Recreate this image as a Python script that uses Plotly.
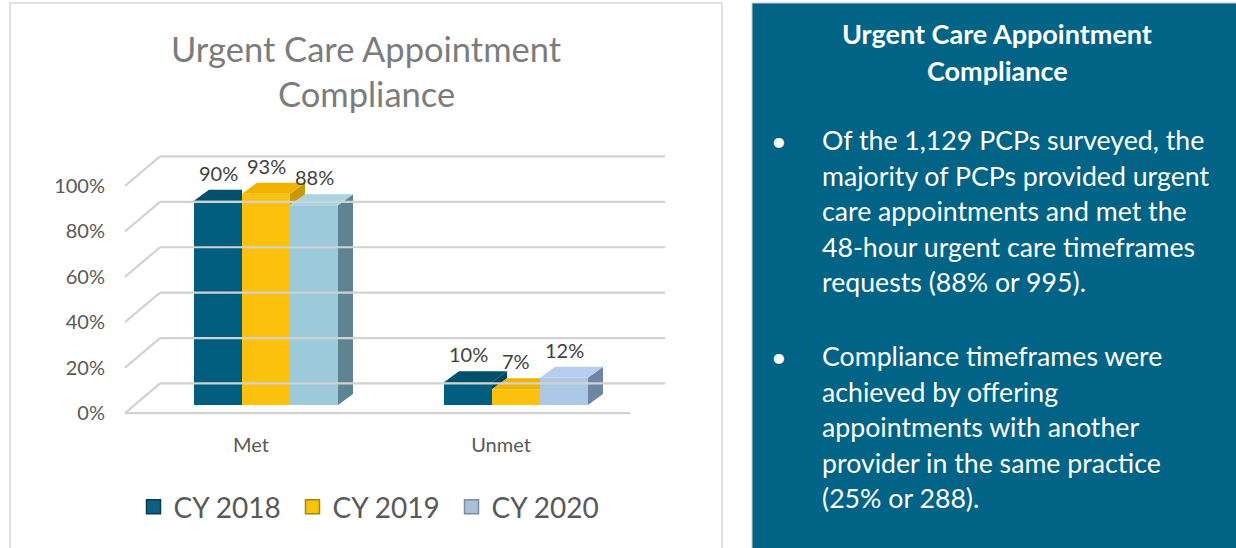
import plotly.graph_objects as go

# ---------------- data ----------------
categories = ["Met", "Unmet"]
series_names = ["CY 2018", "CY 2019", "CY 2020"]
cy2018 = [90, 10]
cy2019 = [93, 7]
cy2020 = [88, 12]
y_ticks = [0, 20, 40, 60, 80, 100]

chart_title = ["Urgent Care Appointment", "Compliance"]
panel_title = ["Urgent Care Appointment", "Compliance"]
bullet1 = ["Of the 1,129 PCPs surveyed, the",
           "majority of PCPs provided urgent",
           "care appointments and met the",
           "48-hour urgent care timeframes",
           "requests (88% or 995)."]
bullet2 = ["Compliance timeframes were",
           "achieved by offering",
           "appointments with another",
           "provider in the same practice",
           "(25% or 288)."]

# ---------------- style ----------------
W, H = 1236, 548
FONT = "Lato"
front_cols = [["#015d7e", "#015d7e"], ["#fcc10c", "#fcc10c"], ["#9ccadb", "#adc7e7"]]
top_cols = [["#004f6b", "#004f6b"], ["#f0b400", "#f0b400"], ["#a9d4e3", "#b7cfec"]]
side_cols = [["#00435b", "#00435b"], ["#c99a00", "#c99a00"], ["#5f8491", "#6e86a3"]]
legend_cols = ["#0f5f7d", "#f5c40c", "#acbfd9"]
legend_edges = ["#073d52", "#a88600", "#7b8da6"]

PX_X = 250.0   # px per x unit
PX_Y = 2.27    # px per y unit
bar_w = 0.192
dx = 15 / PX_X          # depth offset (x)
dy = 11 / PX_Y          # depth offset (y)
front_off = -8 / PX_Y   # front plane offset
back_off = 9.5          # back wall offset
x_front = (125 - 266) / PX_X
x_back = (160 - 266) / PX_X
x_back_end = (665 - 266) / PX_X
x_floor_end = (630 - 266) / PX_X


def px(p):
    return p / W


def py(p):
    return 1 - p / H


series = [cy2018, cy2019, cy2020]
fig = go.Figure()

# front faces (bars)
for i, (name, vals) in enumerate(zip(series_names, series)):
    fig.add_trace(go.Bar(
        x=list(range(len(categories))), y=vals, name=name,
        width=bar_w, offset=-1.5 * bar_w + i * bar_w,
        marker=dict(color=front_cols[i], line=dict(width=0)),
        hoverinfo="skip", showlegend=False,
    ))

# 3D top / side faces computed from the data
for c in range(len(categories)):
    for i, vals in enumerate(series):
        v = vals[c]
        x0 = c - 1.5 * bar_w + i * bar_w
        x1 = x0 + bar_w
        nxt = series[i + 1][c] if i + 1 < len(series) else None
        if nxt is None or nxt < v:
            lo = 0 if nxt is None else nxt
            sx = [x1, x1, x1 + dx, x1 + dx, x1]
            sy = [lo, v, v + dy, lo + dy, lo]
            fig.add_trace(go.Scatter(x=sx, y=sy, fill="toself", mode="lines",
                                     line=dict(width=0), fillcolor=side_cols[i][c],
                                     showlegend=False, hoverinfo="skip"))
            tx = [x0, x1, x1 + dx, x0 + dx, x0]
            ty = [v, v, v + dy, v + dy, v]
        else:
            tx = [x0, x1, x1, x0 + dx, x0]
            ty = [v, v, v + dy, v + dy, v]
        fig.add_trace(go.Scatter(x=tx, y=ty, fill="toself", mode="lines",
                                 line=dict(width=0), fillcolor=top_cols[i][c],
                                 showlegend=False, hoverinfo="skip"))

# legend entries (square swatches)
for i, name in enumerate(series_names):
    fig.add_trace(go.Scatter(
        x=[None], y=[None], mode="markers", name=name,
        marker=dict(symbol="square", size=14, color=legend_cols[i],
                    line=dict(color=legend_edges[i], width=1.5)),
        hoverinfo="skip",
    ))

annotations = []
# data labels
for c in range(len(categories)):
    for i, vals in enumerate(series):
        v = vals[c]
        xc = c - bar_w + i * bar_w
        annotations.append(dict(x=xc, y=v + dy, xref="x", yref="y", text=f"{v}%",
                                showarrow=False, yanchor="middle", yshift=17,
                                font=dict(family=FONT, size=20, color="#404040")))

# gridlines (3D wall + floor)
shapes = []
gcol = "#d2d2d2"
shapes.append(dict(type="rect", xref="paper", yref="paper", x0=px(10), x1=px(722),
                   y0=py(560), y1=py(3), line=dict(color="#d9d9d9", width=1.5),
                   fillcolor="white", layer="below"))
for g in y_ticks:
    shapes.append(dict(type="line", xref="x", yref="y", x0=x_front, y0=g + front_off,
                       x1=x_back, y1=g + back_off, line=dict(color=gcol, width=2.2)))
    shapes.append(dict(type="line", xref="x", yref="y", x0=x_back, y0=g + back_off,
                       x1=x_back_end, y1=g + back_off, line=dict(color=gcol, width=2.2)))
shapes.append(dict(type="line", xref="x", yref="y", x0=x_front, y0=front_off,
                   x1=x_floor_end, y1=front_off, line=dict(color=gcol, width=2.2)))
shapes.append(dict(type="rect", xref="paper", yref="paper", x0=px(752), x1=px(1240),
                   y0=py(560), y1=py(3), line=dict(color="#c9c9c9", width=1),
                   fillcolor="#016385", layer="below"))

# chart title
for k, t in enumerate(chart_title):
    annotations.append(dict(x=px(366), y=py(48 + 45 * k), xref="paper", yref="paper",
                            text=t, showarrow=False, xanchor="center", yanchor="middle",
                            font=dict(family=FONT, size=34.5, color="#7c7c7c")))
# right panel title
for k, t in enumerate(panel_title):
    annotations.append(dict(x=px(997), y=py(33 + 37 * k), xref="paper", yref="paper",
                            text=f"<b>{t}</b>", showarrow=False, xanchor="center",
                            yanchor="middle", font=dict(family=FONT, size=27, color="white")))
# bullets
for start, lines in ((140, bullet1), (356, bullet2)):
    annotations.append(dict(x=px(779), y=py(start), xref="paper", yref="paper",
                            text="•", showarrow=False, xanchor="center", yanchor="middle",
                            font=dict(family=FONT, size=27, color="white")))
    for k, t in enumerate(lines):
        annotations.append(dict(x=px(820), y=py(start + 35.6 * k), xref="paper", yref="paper",
                                text=t, showarrow=False, xanchor="left", yanchor="middle",
                                font=dict(family=FONT, size=26.7, color="white")))

fig.update_layout(
    width=W, height=H,
    margin=dict(l=0, r=0, t=0, b=0),
    paper_bgcolor="white", plot_bgcolor="rgba(0,0,0,0)",
    barmode="overlay",
    shapes=shapes,
    annotations=annotations,
    showlegend=True,
    legend=dict(orientation="h", x=px(372), xanchor="center", y=py(507), yanchor="middle",
                font=dict(family=FONT, size=28, color="#595959"),
                bgcolor="rgba(0,0,0,0)", traceorder="normal",
                itemwidth=30, entrywidth=114, entrywidthmode="pixels"),
    xaxis=dict(domain=[px(122), px(668)], range=[(122 - 266) / PX_X, (668 - 266) / PX_X],
               showgrid=False, zeroline=False, showline=False, ticks="",
               tickvals=[c - 0.06 for c in range(len(categories))], ticktext=categories,
               tickfont=dict(family=FONT, size=20, color="#595959"),
               ticklabelstandoff=8, fixedrange=True),
    yaxis=dict(domain=[py(423.2), py(137.1)], range=[-8, 118],
               showgrid=False, zeroline=False, showline=False, ticks="",
               tickvals=[g + front_off for g in y_ticks], ticktext=[f"{g}%" for g in y_ticks],
               tickfont=dict(family=FONT, size=20, color="#595959"),
               ticklabelstandoff=16, fixedrange=True),
)

fig.write_html("out.html", config={"displayModeBar": False},
               post_script="document.body.style.margin='0px';")
